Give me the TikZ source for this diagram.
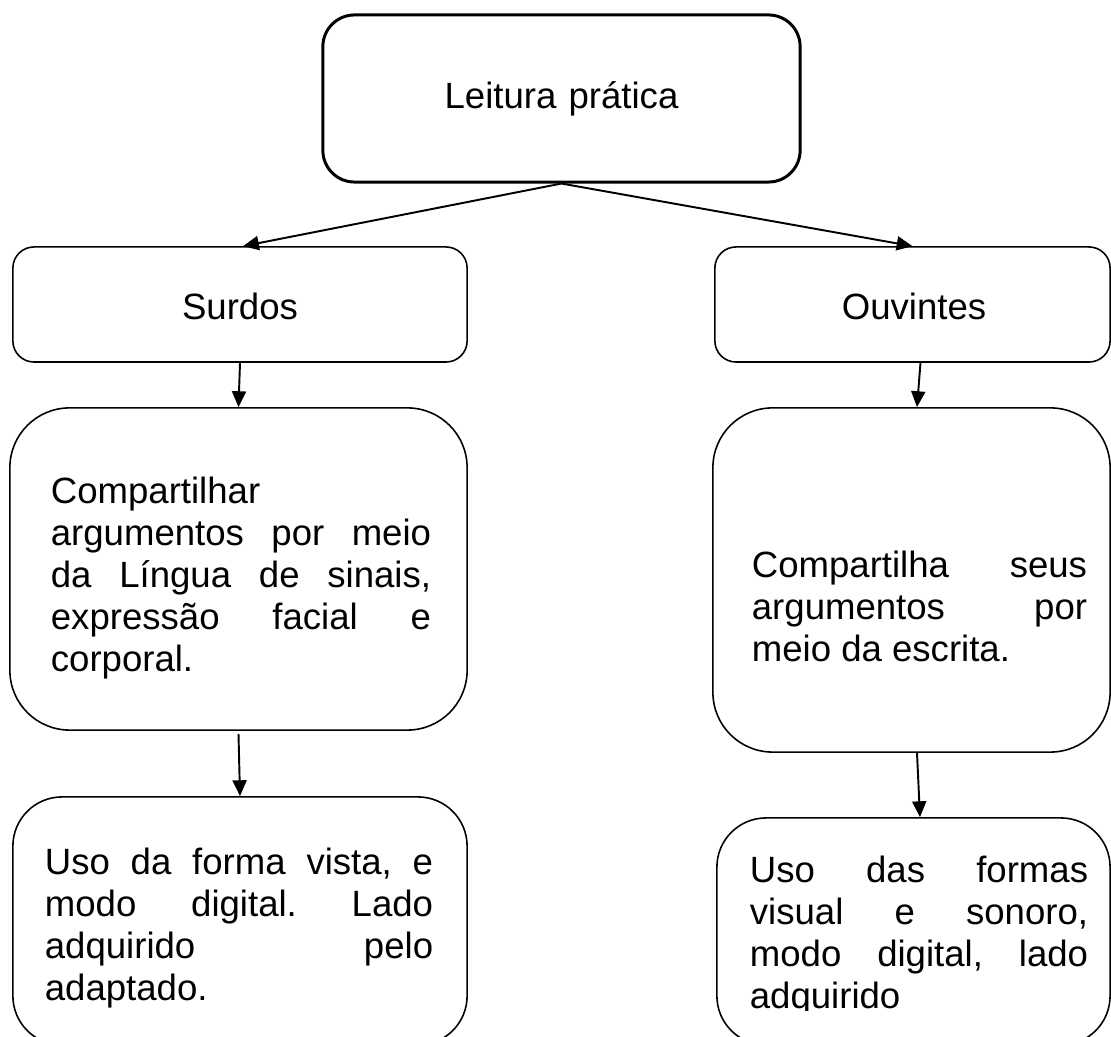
\documentclass[tikz,border=0pt]{standalone}
\usepackage{fontspec}
\setmainfont{Liberation Sans}
\usetikzlibrary{arrows.meta}
\hyphenpenalty=10000
\exhyphenpenalty=10000
\frenchspacing

\begin{document}
\begin{tikzpicture}[x=0.01cm, y=-0.01cm,
		box/.style={draw, line width=0.45pt, rounded corners=#1, inner sep=0pt},
		box/.default=6pt,
		txt/.style={text width=#1, align=justify, inner sep=0pt, font=\fontsize{10.4}{11.95}\selectfont},
		seta/.style={-{Triangle[length=4.5pt, width=4pt]}, line width=0.55pt}]
	\useasboundingbox (0,0) rectangle (1111,1037);
	% caixas
	\node[box=9pt, line width=0.85pt, minimum width=4.77cm, minimum height=1.67cm] (leitura) at (561.5,98.5) {};
	\node[box, minimum width=4.54cm, minimum height=1.15cm] (surdos) at (240,304.5) {};
	\node[box, minimum width=3.95cm, minimum height=1.15cm] (ouvintes) at (912.5,304.5) {};
	\node[box=17pt, minimum width=4.57cm, minimum height=3.22cm] (surdosB) at (238.5,569) {};
	\node[box=17pt, minimum width=3.97cm, minimum height=3.44cm] (ouvintesB) at (911.5,580) {};
	\node[box=14pt, minimum width=4.54cm, minimum height=2.48cm] (surdosC) at (240,921) {};
	\node[box=14pt, minimum width=3.93cm, minimum height=2.27cm] (ouvintesC) at (913.5,931.5) {};
	% textos
	\node[txt=4cm, align=center] (tleitura) at (leitura) {Leitura prática};
	\node[txt=4cm, align=center] (tsurdos) at (240,306) {Surdos};
	\node[txt=3.5cm, align=center] (touvintes) at (914,306) {Ouvintes};
	\node[txt=3.8cm] (tsurdosB) at (241,578) {Compartilhar\newline argumentos por meio \linebreak da Língua de sinais, \linebreak expressão facial e \linebreak corporal.};
	\node[txt=3.35cm] (touvintesB) at (919.5,606) {Compartilha seus \linebreak argumentos por \linebreak meio da escrita.};
	\node[txt=3.88cm] (tsurdosC) at (239,928) {Uso da forma vista, e \linebreak modo digital. Lado \linebreak adquirido pelo \linebreak adaptado.};
	\begin{scope}
		\clip (700,800) rectangle (1111,1011);
		\node[txt=3.38cm] (touvintesC) at (919,936) {Uso das formas \linebreak visual e sonoro, \linebreak modo digital, lado \linebreak adquirido};
	\end{scope}
	% setas
	\draw[seta] (leitura.south) -- ([xshift=0.3mm]surdos.north);
	\draw[seta] (leitura.south) -- (ouvintes.north);
	\draw[seta] (surdos.south) -- (surdosB.north);
	\draw[seta] ([xshift=0.8mm]ouvintes.south) -- ([xshift=0.55mm]ouvintesB.north);
	\draw[seta] ([yshift=-0.3mm]surdosB.south) -- (surdosC.north);
	\draw[seta] ([xshift=0.55mm]ouvintesB.south) -- ([xshift=0.65mm]ouvintesC.north);
\end{tikzpicture}
\end{document}
